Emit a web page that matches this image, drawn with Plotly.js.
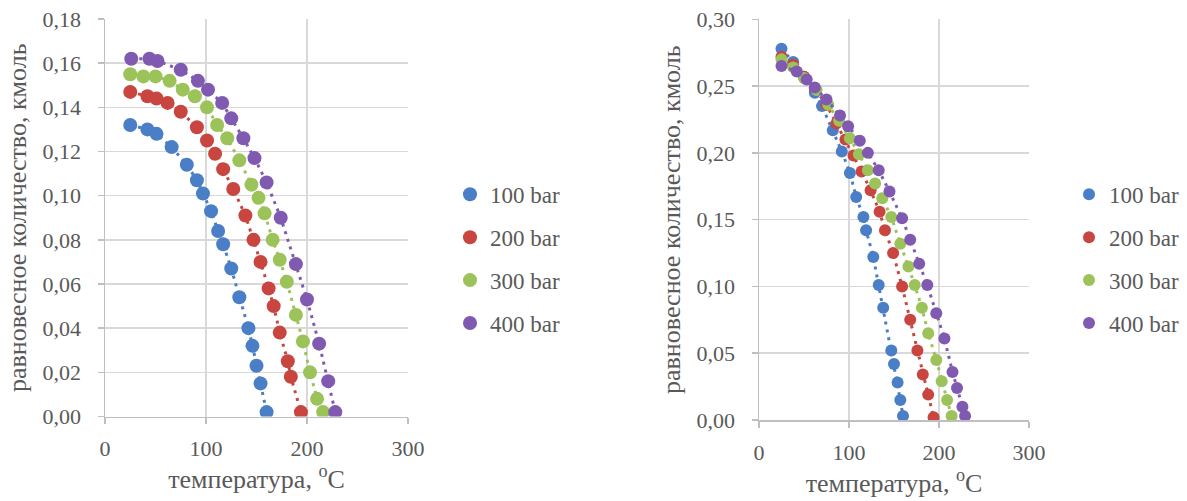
<!DOCTYPE html>
<html>
<head>
<meta charset="utf-8">
<script src="https://cdn.plot.ly/plotly-3.0.1.min.js"></script>
<style>
  html, body { margin: 0; padding: 0; background: #ffffff; }
  #chart { width: 1187px; height: 501px; }
</style>
</head>
<body>
<div id="chart"></div>
<script>
// Series names and colours (one per pressure)
const pressureLabels = ['100 bar', '200 bar', '300 bar', '400 bar'];
const seriesColors = ['#4a7ec6', '#c9453f', '#9bc35a', '#7f5ab0'];

// Left panel: temperature, °C and equilibrium amount, kmol
const leftT100 = [25, 42, 51, 66, 81, 91, 97, 105, 112, 117, 125, 133, 142, 146, 150, 154, 160];
const leftQ100 = [0.132, 0.130, 0.128, 0.122, 0.114, 0.107, 0.101, 0.093, 0.084, 0.078, 0.067, 0.054, 0.040, 0.032, 0.023, 0.015, 0.002];
const leftT200 = [25, 42, 51, 62, 75, 91, 101, 109, 117, 127, 139, 147, 154, 162, 167, 173, 181, 184, 194];
const leftQ200 = [0.147, 0.145, 0.144, 0.142, 0.138, 0.131, 0.125, 0.119, 0.112, 0.103, 0.091, 0.080, 0.070, 0.058, 0.050, 0.038, 0.025, 0.018, 0.002];
const leftT300 = [25, 38, 50, 64, 77, 89, 101, 111, 121, 133, 145, 152, 158, 166, 173, 180, 189, 196, 203, 210, 216];
const leftQ300 = [0.155, 0.154, 0.154, 0.152, 0.148, 0.145, 0.140, 0.132, 0.126, 0.116, 0.105, 0.099, 0.092, 0.080, 0.071, 0.061, 0.046, 0.034, 0.020, 0.008, 0.002];
const leftT400 = [26, 44, 52, 75, 92, 102, 116, 125, 137, 148, 160, 174, 189, 200, 212, 221, 228];
const leftQ400 = [0.162, 0.162, 0.161, 0.157, 0.152, 0.148, 0.142, 0.135, 0.126, 0.117, 0.106, 0.090, 0.069, 0.053, 0.033, 0.016, 0.002];

// Right panel: temperature, °C and equilibrium amount, kmol
const rightT100 = [25, 38, 50, 62, 70, 82, 92, 101, 108, 116, 119, 127, 133, 138, 147, 150, 154, 157, 160];
const rightQ100 = [0.278, 0.268, 0.257, 0.245, 0.235, 0.217, 0.201, 0.185, 0.167, 0.152, 0.142, 0.122, 0.101, 0.084, 0.052, 0.042, 0.028, 0.015, 0.003];
const rightT200 = [25, 38, 50, 62, 75, 86, 96, 105, 114, 124, 134, 140, 149, 159, 168, 176, 182, 188, 194];
const rightQ200 = [0.272, 0.266, 0.257, 0.248, 0.236, 0.222, 0.210, 0.198, 0.186, 0.172, 0.156, 0.142, 0.125, 0.100, 0.075, 0.052, 0.034, 0.019, 0.002];
const rightT300 = [25, 38, 50, 64, 77, 89, 101, 111, 121, 129, 137, 147, 157, 166, 173, 181, 188, 197, 203, 209, 214];
const rightQ300 = [0.270, 0.264, 0.256, 0.247, 0.236, 0.224, 0.211, 0.199, 0.187, 0.177, 0.166, 0.152, 0.132, 0.115, 0.101, 0.084, 0.065, 0.045, 0.029, 0.015, 0.003];
const rightT400 = [25, 42, 53, 62, 75, 90, 99, 112, 121, 133, 145, 159, 168, 178, 187, 197, 206, 215, 220, 226, 229];
const rightQ400 = [0.265, 0.261, 0.255, 0.249, 0.240, 0.228, 0.220, 0.209, 0.200, 0.187, 0.171, 0.151, 0.135, 0.117, 0.101, 0.080, 0.061, 0.036, 0.024, 0.010, 0.003];

// Axis ticks and titles
const xTickValues = [0, 100, 200, 300];
const leftYMax = 0.18, leftYStep = 0.02;
const rightYMax = 0.30, rightYStep = 0.05;
const xTitle = 'температура, <sup>o</sup>C';
const yTitle = 'равновесное количество, кмоль';

const FONT = 'Liberation Serif';
const TEXT = '#595959';
const GRID = '#d9d9d9';
const AXIS = '#bfbfbf';

const leftSets = [[leftT100, leftQ100], [leftT200, leftQ200], [leftT300, leftQ300], [leftT400, leftQ400]];
const rightSets = [[rightT100, rightQ100], [rightT200, rightQ200], [rightT300, rightQ300], [rightT400, rightQ400]];

// Each series: a dotted connecting line (kept out of the legend) plus its markers
function makeTraces(set, i, panel) {
  const left = panel === 0;
  const common = {
    type: 'scatter',
    x: set[0],
    y: set[1],
    name: pressureLabels[i],
    xaxis: left ? 'x' : 'x2',
    yaxis: left ? 'y' : 'y2',
    legend: left ? 'legend' : 'legend2',
    legendgroup: (left ? 'L' : 'R') + i,
    hoverinfo: 'x+y+name'
  };
  const line = Object.assign({}, common, {
    mode: 'lines',
    showlegend: false,
    line: { color: seriesColors[i], width: 3, dash: '3px,5px' }
  });
  const pts = Object.assign({}, common, {
    mode: 'markers',
    marker: { color: seriesColors[i], size: left ? 14 : 12, symbol: 'circle' }
  });
  return [line, pts];
}

const traces = [];
leftSets.forEach((s, i) => traces.push(...makeTraces(s, i, 0)));
rightSets.forEach((s, i) => traces.push(...makeTraces(s, i, 1)));

function xAxis(domain, anchor) {
  return {
    domain: domain, anchor: anchor,
    range: [0, 300], tickvals: xTickValues, ticktext: xTickValues.map(String),
    showgrid: true, gridcolor: GRID, gridwidth: 1.5,
    showline: true, linecolor: AXIS, linewidth: 1.5,
    ticks: 'outside', ticklen: 6, tickcolor: AXIS, tickwidth: 1.5,
    ticklabelstandoff: 6,
    zeroline: false, fixedrange: true,
    tickfont: { family: FONT, size: 22, color: TEXT },
    title: { text: xTitle, font: { family: FONT, size: 26, color: TEXT }, standoff: 8 }
  };
}

function yAxis(domain, anchor, yMax, step) {
  return {
    domain: domain, anchor: anchor,
    range: [0, yMax], dtick: step, tick0: 0, tickformat: '.2f',
    showgrid: true, gridcolor: GRID, gridwidth: 1.5,
    showline: true, linecolor: AXIS, linewidth: 1.5,
    ticks: 'outside', ticklen: 6, tickcolor: AXIS, tickwidth: 1.5,
    ticklabelstandoff: 12,
    zeroline: false, fixedrange: true,
    tickfont: { family: FONT, size: 22, color: TEXT },
    title: { text: yTitle, font: { family: FONT, size: 26, color: TEXT }, standoff: 8 }
  };
}

function legendBox(x) {
  return {
    x: x, xanchor: 'left', y: 0.655, yanchor: 'top',
    bgcolor: 'rgba(0,0,0,0)', borderwidth: 0,
    tracegroupgap: 10,
    font: { family: FONT, size: 23, color: TEXT, weight: 'normal', style: 'normal' }
  };
}

const layout = {
  width: 1187, height: 501,
  margin: { l: 0, r: 0, t: 0, b: 0 },
  paper_bgcolor: '#ffffff', plot_bgcolor: '#ffffff',
  separators: ', ',
  font: { family: FONT, color: TEXT, size: 22 },
  showlegend: true,
  xaxis: xAxis([105 / 1187, 408 / 1187], 'y'),
  yaxis: yAxis([1 - 416.5 / 501, 1 - 19 / 501], 'x', leftYMax, leftYStep),
  xaxis2: xAxis([759 / 1187, 1029 / 1187], 'y2'),
  yaxis2: yAxis([1 - 420 / 501, 1 - 19.3 / 501], 'x2', rightYMax, rightYStep),
  legend: legendBox(450 / 1187),
  legend2: legendBox(1069 / 1187)
};

Plotly.newPlot('chart', traces, layout, { displayModeBar: false, staticPlot: true });
</script>
</body>
</html>
